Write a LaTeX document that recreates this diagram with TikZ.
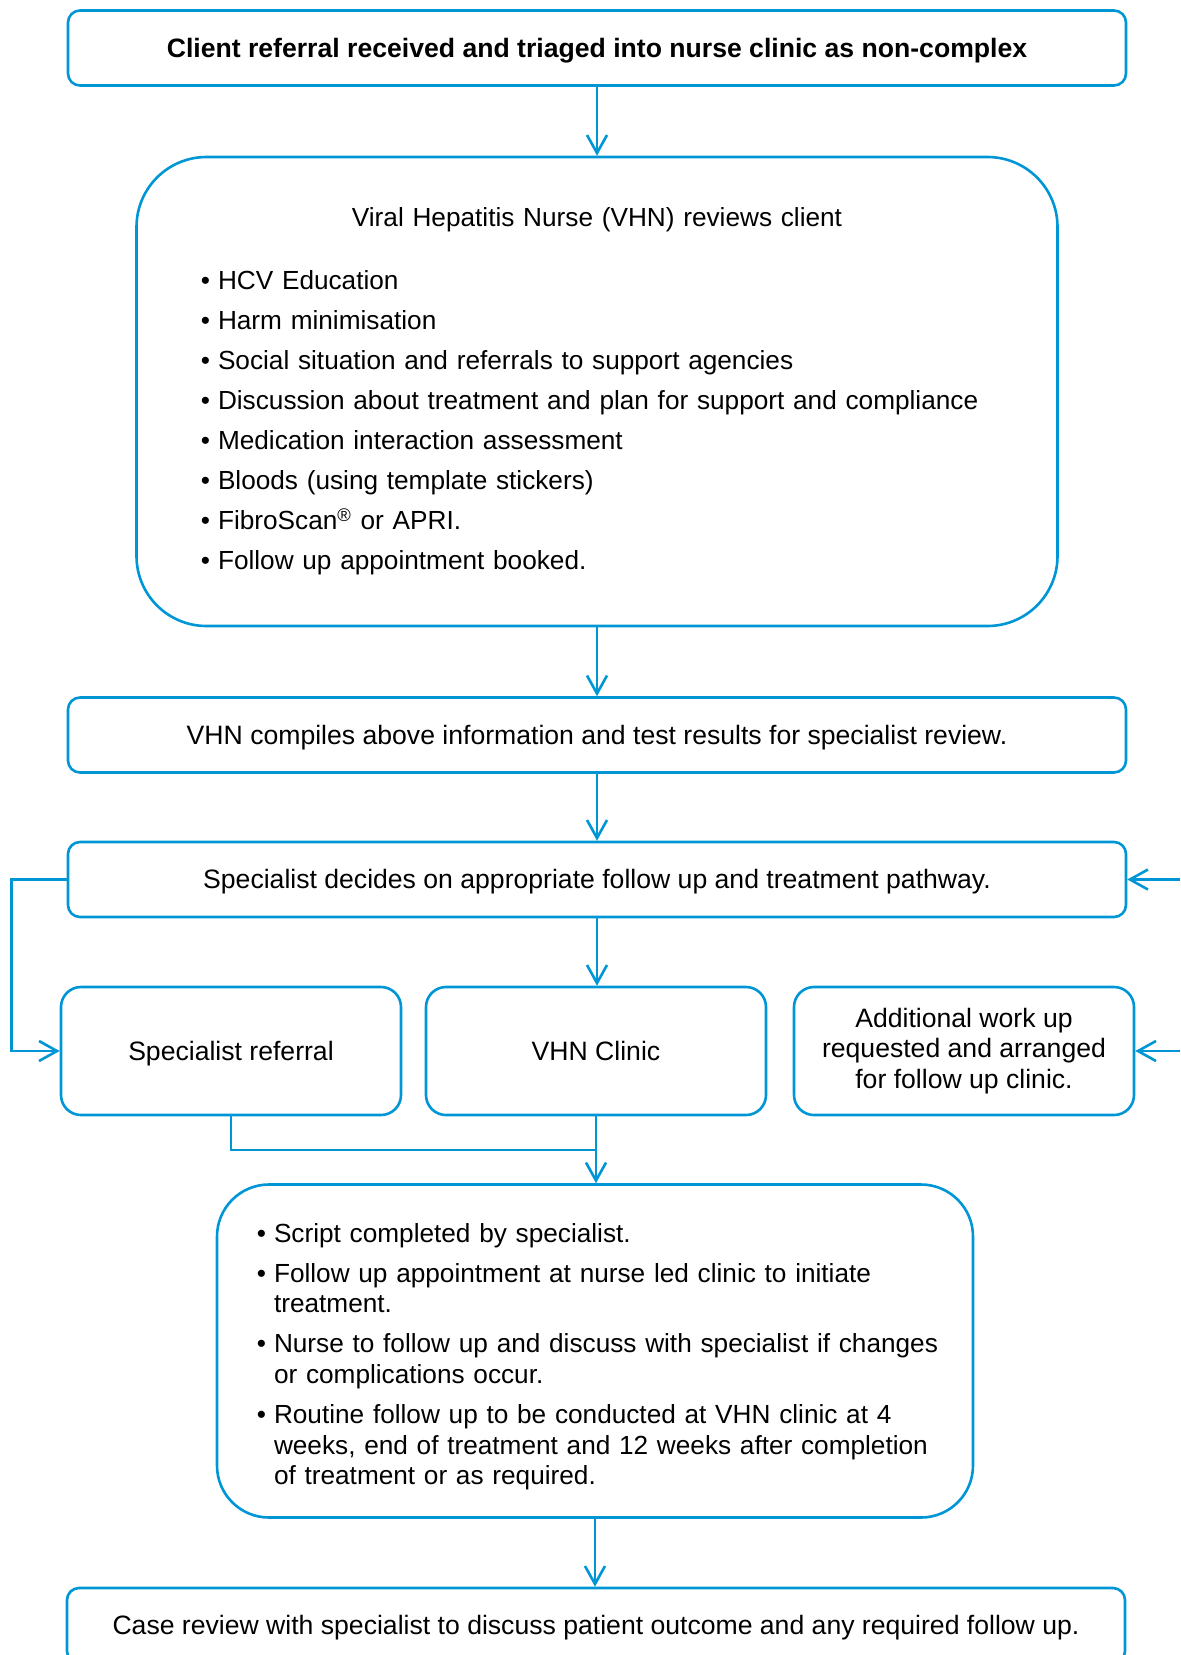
\documentclass[tikz,border=0pt]{standalone}
\usepackage{fontspec}
\setmainfont{Liberation Sans}
\usepackage{enumitem}
\usetikzlibrary{arrows.meta}
\definecolor{pathblue}{RGB}{0,150,214}
\setlist[itemize]{nosep, label=\textbullet, leftmargin=8.75pt, labelsep=4pt, itemsep=4.7pt}

\begin{document}
\begin{tikzpicture}[x=0.5pt, y=-0.5pt,
  every node/.style={font=\fontsize{13.3}{15.3}\selectfont},
  flowbox/.style={draw=pathblue, line width=1.3pt, rounded corners=6pt,
    minimum width=529pt, minimum height=37.5pt, inner sep=0pt, align=center,
    text height=9.4pt, text depth=0pt},
  smallbox/.style={draw=pathblue, line width=1.3pt, rounded corners=10pt,
    minimum width=170pt, minimum height=64pt, inner sep=0pt, align=center},
  bigbox/.style={draw=pathblue, line width=1.3pt, inner sep=0pt, align=left,
    font=\fontsize{13.1}{15.3}\selectfont},
  link/.style={draw=pathblue, line width=1.3pt},
  flow/.style={link, -{Straight Barb[length=9pt, width=10pt]}}]
  \useasboundingbox (0,0) rectangle (1180,1655);

  % Intake
  \node[flowbox, font=\fontsize{13.3}{15.3}\selectfont\bfseries] (referral) at (597,48)
    {Client referral received and triaged into nurse clinic as non-complex};

  \node[bigbox, rounded corners=35pt, minimum width=460.5pt, minimum height=234.5pt,
    text width=396.5pt] (review) at (597,391.5) {%
    {\centering Viral Hepatitis Nurse (VHN) reviews client\par}
    \vspace{16.4pt}
    \begin{itemize}
      \item HCV Education
      \item Harm minimisation
      \item Social situation and referrals to support agencies
      \item Discussion about treatment and plan for support and compliance
      \item Medication interaction assessment
      \item Bloods (using template stickers)
      \item FibroScan\textsuperscript{\textregistered} or APRI.
      \item Follow up appointment booked.
    \end{itemize}};

  \node[flowbox] (compile) at (597,735)
    {VHN compiles above information and test results for specialist review.};
  \node[flowbox] (decide) at (597,879.5)
    {Specialist decides on appropriate follow up and treatment pathway.};

  % Pathways
  \node[smallbox, text height=9.4pt, text depth=0pt] (specref) at (231,1051) {Specialist referral};
  \node[smallbox, text height=9.4pt, text depth=0pt] (clinic) at (596,1051) {VHN Clinic};
  \node[smallbox] (workup) at (964,1051)
    {Additional work up\\requested and arranged\\for follow up clinic.};

  \node[bigbox, rounded corners=26pt, minimum width=378pt, minimum height=166.5pt,
    text width=360pt] (plan) at (595,1351) {%
    \begin{itemize}[leftmargin=19.5pt]
      \item Script completed by specialist.
      \item Follow up appointment at nurse led clinic to initiate\newline treatment.
      \item Nurse to follow up and discuss with specialist if changes\newline or complications occur.
      \item Routine follow up to be conducted at VHN clinic at 4\newline weeks, end of treatment and 12 weeks after completion\newline of treatment or as required.
    \end{itemize}};

  \node[flowbox] (casereview) at (596,1625.5)
    {Case review with specialist to discuss patient outcome and any required follow up.};

  % Connectors
  \draw[flow] (referral.south) -- (referral.south |- review.north);
  \draw[flow] (review.south) -- (review.south |- compile.north);
  \draw[flow] (compile.south) -- (compile.south |- decide.north);
  \draw[flow] (decide.south) -- (decide.south |- clinic.north);
  \draw[flow] (decide.west) -- ++(-55,0) |- (specref.west);
  \coordinate (feedA) at (1180,879.5);
  \coordinate (feedB) at (1180,1051);
  \draw[flow] (feedA) -- (decide.east);
  \draw[flow] (feedB) -- (workup.east);
  \coordinate (merge) at (596,1150);
  \draw[link] (specref.south) |- (merge);
  \draw[flow] (clinic.south) -- (clinic.south |- plan.north);
  \draw[flow] (plan.south) -- (plan.south |- casereview.north);
\end{tikzpicture}
\end{document}
